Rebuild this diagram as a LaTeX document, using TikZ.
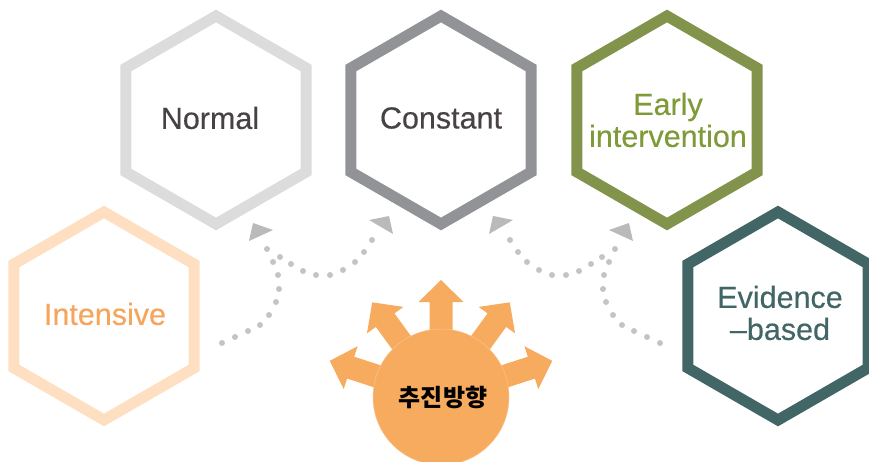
\documentclass[tikz,border=0pt]{standalone}
\usepackage{fontspec}
\setmainfont{Liberation Sans}
\newfontfamily\krfont{Noto Sans CJK KR}
\definecolor{cNormal}{HTML}{DCDCDC}
\definecolor{cConst}{HTML}{929396}
\definecolor{cEarly}{HTML}{82944C}
\definecolor{tEarly}{HTML}{7F9A38}
\definecolor{cInt}{HTML}{FEDFC2}
\definecolor{tInt}{HTML}{F5A65C}
\definecolor{cEvid}{HTML}{416665}
\definecolor{tDark}{HTML}{474343}
\definecolor{cSun}{HTML}{F6AB5F}
\definecolor{cDot}{HTML}{C4C4C4}
\newcommand\hexagram[2]{%
  \draw[hexline,draw=#2,shift={#1}] (90:104) -- (150:104) -- (210:104) -- (270:104) -- (330:104) -- (30:104) -- cycle;}
\tikzset{
  hexline/.style={line width=11pt,line join=miter},
  hextext/.style={font=\addfontfeature{FakeBold=0.4}\fontsize{30.5}{32}\selectfont,align=center,inner sep=0pt},
  dotc/.style={fill=cDot},
  tip/.style={fill=cDot!95!black},
  ray/.style={fill=cSun},
}
\begin{document}
\begin{tikzpicture}[x=1pt,y=-1pt]
\useasboundingbox (0,0) rectangle (869,462);
% hexagons
\hexagram{(216,120)}{cNormal}
\hexagram{(441,120)}{cConst}
\hexagram{(667,120)}{cEarly}
\hexagram{(104,316)}{cInt}
\hexagram{(778,316)}{cEvid}
\node[hextext,text=tDark] (normal) at (210,118) {Normal};
\node[hextext,text=tDark] (constant) at (441,118) {Constant};
\node[hextext,text=tEarly] (early) at (668,120) {Early\\intervention};
\node[hextext,text=tInt] (intensive) at (105,314) {Intensive};
\node[hextext,text=cEvid] (evidence) at (780,313) {Evidence\\–based};
% dotted connectors, left side and its mirror image
\foreach \sx/\sh in {1/0,-1/882}{
\begin{scope}[shift={(\sh,0)},xscale=\sx]
  \foreach \p in {(222,343),(235,337),(248,331),(260,325),(269,315),(276,302),(279,289),(278,275),(273,262),(267,249)}
    \fill[dotc] \p circle (3);
  \foreach \p in {(280,257),(291,264),(303,271),(316,275),(330,275),(343,270),(355,262),(364,252),(372,240)}
    \fill[dotc] \p circle (3);
  \fill[tip] (253,223) -- (273,230) -- (249,241) -- cycle;
  \fill[tip] (389,216) -- (369,220) -- (393,234) -- cycle;
\end{scope}}
% sun
\coordinate (sunc) at (441,397);
\foreach \a in {18,54,90,126,162}{
  \fill[ray,shift={(sunc)},rotate=\a] (0,-11.5) -- (95,-11.5) -- (95,-22.5) -- (117,0) -- (95,22.5) -- (95,11.5) -- (0,11.5) -- cycle;}
\fill[cSun] (sunc) circle (68);
\draw[cSun!70!white,line width=0.5pt] (sunc) circle (68);
\node[font=\krfont\bfseries\fontsize{24}{26}\selectfont,text=black,inner sep=0pt] (sun) at (443,397) {추진방향};
\end{tikzpicture}
\end{document}
